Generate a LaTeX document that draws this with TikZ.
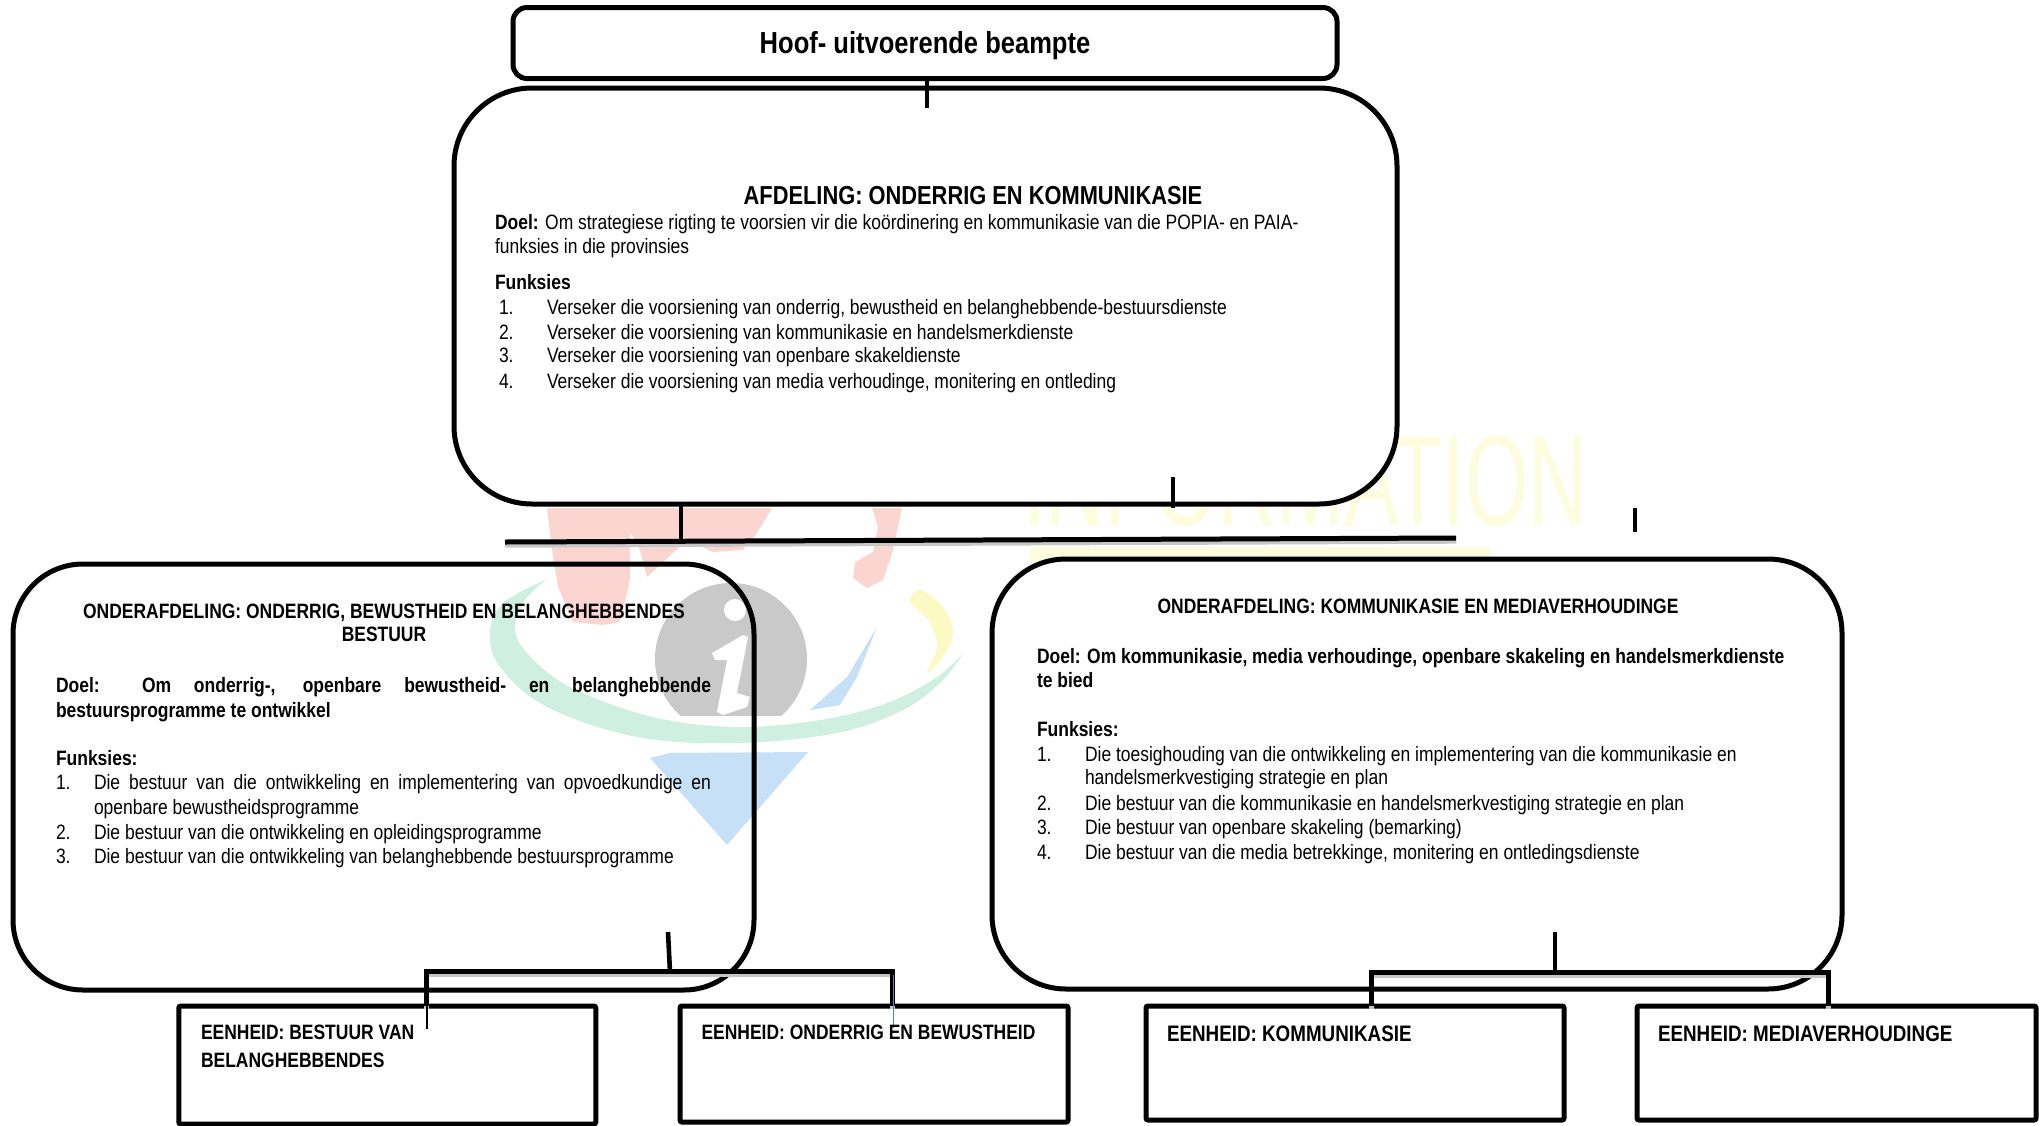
\documentclass[tikz,border=0pt]{standalone}
\usepackage{fontspec}
\usepackage{graphicx}
\setmainfont{Liberation Sans}[FakeStretch=0.84]
\usetikzlibrary{calc}
\definecolor{wred}{HTML}{FBD6D0}
\definecolor{wgreen}{HTML}{CFEFE2}
\definecolor{wgray}{HTML}{C9C9C9}
\definecolor{wblue}{HTML}{C6E0F7}
\definecolor{wyel}{HTML}{FBFAC4}
\definecolor{wyeltext}{HTML}{FDFDDD}
\definecolor{bluethin}{HTML}{4A86C8}
\newcommand{\bodyf}{\fontsize{10.4}{12}\selectfont}
\newcommand{\subf}{\fontsize{10.4}{12}\selectfont\bfseries}
\tikzset{
  bigbox/.style={draw=black,line width=2.5pt,inner sep=0pt,outer sep=0pt,rectangle},
  unitbox/.style={draw=black,line width=2.5pt,inner sep=0pt,outer sep=0pt,rectangle,rounded corners=1pt},
  txt/.style={inner sep=0pt,outer sep=0pt,anchor=base west,font=\bodyf},
  btxt/.style={inner sep=0pt,outer sep=0pt,anchor=base west,font=\subf},
  ctxt/.style={inner sep=0pt,outer sep=0pt,anchor=base,font=\subf},
  conn/.style={draw=black,line width=2.5pt,preaction={draw=black!22,line width=2.5pt,transform canvas={yshift=-1.6pt}}},
  stub/.style={draw=black,line width=2.3pt},
}
\begin{document}
\begin{tikzpicture}[x=0.5pt,y=-0.5pt]
\useasboundingbox (0,0) rectangle (2039,1125);
% watermark
\fill[wred] (547,508)--(772,508)--(757,533)--(743,550)--(713,552)--(687,540)--(673,553)--(647,577)--(640,550)--(630,532)--(630,580)--(620,622)--(603,625)--(573,622)--(558,587)--(553,557)--cycle;
\fill[wred] (872,508)--(902,508)--(893,550)--(883,580)--(867,588)--(853,578)--(855,562)--(873,552)--(878,527)--cycle;
\begin{scope}
\clip (600,560) rectangle (860,715);
\fill[wgray] (731,659) ellipse [x radius=76,y radius=76];
\end{scope}
\fill[white] (735,610) circle [radius=11];
\fill[white] (712,653)--(743,635)--(748,637)--(737,693)--(750,697)--(747,707)--(723,715)--(717,712)--(727,660)--(715,660)--cycle;
\fill[wgreen] plot[smooth,tension=0.6] coordinates {(547,579)(503,603)(490,633)(500,667)(547,707)(637,737)(737,743)(837,733)(903,710)(943,680)(963,653)} -- plot[smooth,tension=0.6] coordinates {(963,653)(937,677)(887,703)(820,720)(737,727)(653,717)(570,687)(527,653)(515,627)(525,600)(547,579)} -- cycle;
\fill[wblue] (877,627)--(847,677)--(810,710)--(840,705)--(857,677)--cycle;
\fill[wblue] (650,758)--(670,753)--(808,752)--(727,845)--cycle;
\fill[wyel] plot[smooth cycle,tension=0.6] coordinates {(910,600)(920,590)(943,607)(953,633)(943,657)(927,673)(937,647)(930,623)(917,610)};
\node (wmtext) [inner sep=0pt,outer sep=0pt,anchor=south west,text=wyeltext] at (1023,527) {\resizebox{282pt}{45pt}{INFORMATION}};
\fill[wyeltext] (1030,547) rectangle (1490,562);
% boxes
\node (ceo) [unitbox,rounded corners=7pt,fill=white,minimum width=412pt,minimum height=35.5pt] at (925,43) {};
\node (div) [bigbox,rounded corners=39pt,fill=white,minimum width=471.5pt,minimum height=208pt] at (925.5,296) {};
\node (subl) [bigbox,rounded corners=35pt,minimum width=370.5pt,minimum height=213pt] at (383.5,777) {};
\node (subr) [bigbox,rounded corners=37pt,fill=white,minimum width=425pt,minimum height=215pt] at (1417,774) {};
\node (u1) [unitbox,minimum width=208.5pt,minimum height=59pt] at (387.25,1065) {};
\node (u2) [unitbox,minimum width=194pt,minimum height=58pt] at (874,1064) {};
\node (u3) [unitbox,minimum width=209pt,minimum height=57pt] at (1355,1063) {};
\node (u4) [unitbox,minimum width=199.5pt,minimum height=57pt] at (1836.5,1063) {};
% connectors
\coordinate (ceostub) at (927,108);
\coordinate (divstubtop) at (1173,477);
\coordinate (divstubbot) at (1173,508);
\coordinate (busl) at (505,542);
\coordinate (busr) at (1456,538);
\coordinate (freea) at (1635,508);
\coordinate (freeb) at (1635,532);
\coordinate (lstub) at (668,932);
\coordinate (lbust) at (670,972);
\coordinate (rstub) at (1555,932);
\coordinate (rbust) at (1555,972);
\coordinate (u1thin) at (427,1029);
\coordinate (u2thin) at (893.5,1028);
\coordinate (u2thintop) at (893.5,975);
\draw[stub] (927,0 |- ceo.south) -- (ceostub);
\draw[stub,line width=2pt] (divstubtop) -- (divstubbot);
\draw[stub] (681,0 |- div.south) -- (681,540);
\draw[conn,line cap=butt] (busl) -- (busr);
\draw[stub,line width=2pt] (freea) -- (freeb);
\draw[stub] (lstub) -- (lbust);
\draw[conn] (426,0 |- u1.north) -- (426,971) -- (892,971) -- (892,0 |- u2.north);
\draw[draw=black,line width=0.6pt] (427,0 |- u1.north) -- (u1thin);
\draw[draw=bluethin,line width=0.6pt] (u2thintop) -- (u2thin);
\draw[stub] (rstub) -- (rbust);
\draw[conn] (1371,0 |- u3.north) -- (1371,972) -- (1828,972) -- (1828,0 |- u4.north);
% CEO and division text
\node (ceot) [ctxt,font=\fontsize{15.2}{18}\selectfont\bfseries] at (925,53) {Hoof- uitvoerende beampte};
\node (divh) [ctxt,font=\fontsize{13}{15}\selectfont\bfseries] at (973,204) {AFDELING: ONDERRIG EN KOMMUNIKASIE};
\node (d1) [txt] at (495,229) {\textbf{Doel:} Om strategiese rigting te voorsien vir die koördinering en kommunikasie van die POPIA- en PAIA-};
\node (d2) [txt] at (495,253) {funksies in die provinsies};
\node (d3) [btxt] at (495,289) {Funksies};
\foreach \i/\y/\t in {1/314/{Verseker die voorsiening van onderrig, bewustheid en belanghebbende-bestuursdienste},2/339/{Verseker die voorsiening van kommunikasie en handelsmerkdienste},3/362/{Verseker die voorsiening van openbare skakeldienste},4/388/{Verseker die voorsiening van media verhoudinge, monitering en ontleding}}{
  \node (dn\i) [txt] at (499,\y) {\i.};
  \node (dt\i) [txt] at (547,\y) {\t};
}
% left sub text
\node (lh1) [ctxt] at (384,618) {ONDERAFDELING: ONDERRIG, BEWUSTHEID EN BELANGHEBBENDES};
\node (lh2) [ctxt] at (384,641) {BESTUUR};
\node (ld1) [btxt] at (56,692) {\makebox[327.5pt][s]{Doel: Om onderrig-, openbare bewustheid- en belanghebbende}};
\node (ld2) [btxt] at (56,717) {bestuursprogramme te ontwikkel};
\node (ld3) [btxt] at (56,765) {Funksies:};
\node (ln1) [txt] at (56,789) {1.};
\node (lt1) [txt] at (94,789) {\makebox[308.5pt][s]{Die bestuur van die ontwikkeling en implementering van opvoedkundige en}};
\node (lt1b) [txt] at (94,814) {openbare bewustheidsprogramme};
\node (ln2) [txt] at (56,839) {2.};
\node (lt2) [txt] at (94,839) {Die bestuur van die ontwikkeling en opleidingsprogramme};
\node (ln3) [txt] at (56,863) {3.};
\node (lt3) [txt] at (94,863) {Die bestuur van die ontwikkeling van belanghebbende bestuursprogramme};
% right sub text
\node (rh1) [ctxt] at (1418,613) {ONDERAFDELING: KOMMUNIKASIE EN MEDIAVERHOUDINGE};
\node (rd1) [btxt] at (1037,663) {Doel: Om kommunikasie, media verhoudinge, openbare skakeling en handelsmerkdienste};
\node (rd2) [btxt] at (1037,687) {te bied};
\node (rd3) [btxt] at (1037,736) {Funksies:};
\node (rn1) [txt] at (1037,761) {1.};
\node (rt1) [txt] at (1085,761) {Die toesighouding van die ontwikkeling en implementering van die kommunikasie en};
\node (rt1b) [txt] at (1085,784) {handelsmerkvestiging strategie en plan};
\node (rn2) [txt] at (1037,810) {2.};
\node (rt2) [txt] at (1085,810) {Die bestuur van die kommunikasie en handelsmerkvestiging strategie en plan};
\node (rn3) [txt] at (1037,834) {3.};
\node (rt3) [txt] at (1085,834) {Die bestuur van openbare skakeling (bemarking)};
\node (rn4) [txt] at (1037,859) {4.};
\node (rt4) [txt] at (1085,859) {Die bestuur van die media betrekkinge, monitering en ontledingsdienste};
% unit text
\node (ut1) [btxt] at (201,1039) {EENHEID: BESTUUR VAN};
\node (ut1b) [btxt] at (201,1067) {BELANGHEBBENDES};
\node (ut2) [btxt] at (701.5,1039) {EENHEID: ONDERRIG EN BEWUSTHEID};
\node (ut3) [btxt,font=\fontsize{11.2}{13}\selectfont\bfseries] at (1167,1041) {EENHEID: KOMMUNIKASIE};
\node (ut4) [btxt,font=\fontsize{11.2}{13}\selectfont\bfseries] at (1658,1041) {EENHEID: MEDIAVERHOUDINGE};
\end{tikzpicture}
\end{document}
